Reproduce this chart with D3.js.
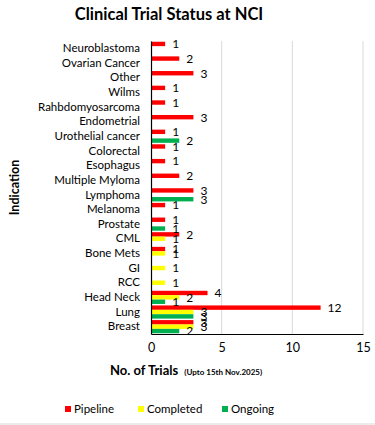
<!DOCTYPE html>
<html><head><meta charset="utf-8">
<script src="https://cdn.jsdelivr.net/npm/d3@7"></script>
<style>body{margin:0;background:#fff}svg{display:block;font-family:Lato,"Open Sans",sans-serif}</style>
</head><body><svg id="c" width="375" height="425"></svg>
<script>
const categories = ["Neuroblastoma","Ovarian Cancer","Other","Wilms","Rahbdomyosarcoma","Endometrial","Urothelial cancer","Colorectal","Esophagus","Multiple Myloma","Lymphoma","Melanoma","Prostate","CML","Bone Mets","GI","RCC","Head Neck","Lung","Breast"];
const pipeline  = [1,2,3,1,1,3,1,1,1,2,3,1,1,2,1,null,null,4,12,3];
const completed = [null,null,null,null,null,null,null,null,null,null,null,null,null,1,1,1,1,2,3,3];
const ongoing   = [null,null,null,null,null,null,2,null,null,null,3,null,1,null,null,null,null,1,3,2];
const seriesNames = ["Pipeline","Completed","Ongoing"];
const seriesColors = ["#ff0000","#ffff00","#00b050"];
const xTicks = [0,5,10,15];

const svg = d3.select("#c");
const seriesData = [pipeline, completed, ongoing];

const x = d3.scaleLinear().domain([0,15]).range([151,363]);
const y = d3.scaleBand().domain(categories).range([41,334]).paddingInner(0.1).paddingOuter(0.05);
const ySub = d3.scaleBand().domain(seriesNames).range([0, y.bandwidth()]);

// gridlines
svg.append("g").selectAll("line").data(xTicks.filter(d=>d>0)).join("line")
  .attr("x1",d=>x(d)).attr("x2",d=>x(d)).attr("y1",41).attr("y2",334)
  .attr("stroke","#d9d9d9").attr("stroke-width",1);

// bars
seriesNames.forEach((s,si)=>{
  const rows = categories.map((c,i)=>({c, v: seriesData[si][i]})).filter(d=>d.v!=null);
  svg.append("g").selectAll("rect").data(rows).join("rect")
    .attr("x", x(0)).attr("y", d=>y(d.c)+ySub(s))
    .attr("width", d=>x(d.v)-x(0)).attr("height", ySub.bandwidth())
    .attr("fill", seriesColors[si]);
  svg.append("g").selectAll("text").data(rows).join("text")
    .attr("x", d=>x(d.v)+7).attr("y", d=>y(d.c)+ySub(s)+ySub.bandwidth()/2)
    .attr("dy","0.36em").attr("font-size",12).attr("fill","#000").text(d=>d.v);
});

// y axis
const yAxis = svg.append("g").attr("transform","translate(151,0)")
  .call(d3.axisLeft(y).tickSize(0).tickPadding(11));
yAxis.select(".domain").attr("stroke","#000").attr("stroke-width",1.2);
yAxis.selectAll("text").attr("font-size",11.5).attr("font-family","Lato").attr("fill","#000");

// x axis
const xAxis = svg.append("g").attr("transform","translate(0,334)")
  .call(d3.axisBottom(x).tickValues(xTicks).tickSize(0).tickPadding(9));
xAxis.select(".domain").attr("stroke","#000").attr("stroke-width",1.2);
xAxis.selectAll("text").attr("font-size",12.5).attr("font-family","Lato").attr("fill","#000");

// title
svg.append("text").attr("x",169).attr("y",20).attr("text-anchor","middle")
  .attr("font-size",16.5).attr("font-weight","bold").attr("fill","#000").text("Clinical Trial Status at NCI");

// y title
svg.append("text").attr("transform","translate(19,187.5) rotate(-90)").attr("text-anchor","middle")
  .attr("font-size",12.5).attr("font-weight","bold").attr("fill","#000").text("Indication");

// x title
const xt = svg.append("text").attr("x",110).attr("y",375).attr("font-weight","bold").attr("fill","#000");
xt.append("tspan").attr("font-size",13).text("No. of Trials ");
xt.append("tspan").attr("font-size",8).attr("dx",3).text("(Upto 15th Nov.2025)");

// legend
const legX = [65,138,222];
const lg = svg.append("g").selectAll("g").data(seriesNames).join("g")
  .attr("transform",(d,i)=>`translate(${legX[i]},406)`);
lg.append("rect").attr("width",6).attr("height",6).attr("fill",(d,i)=>seriesColors[i]);
lg.append("text").attr("x",9).attr("y",3).attr("dy","0.36em").attr("font-size",11.5).attr("fill","#000").text(d=>d);

// bottom border
svg.append("line").attr("x1",0).attr("x2",375).attr("y1",424).attr("y2",424).attr("stroke","#d9d9d9");
</script></body></html>
